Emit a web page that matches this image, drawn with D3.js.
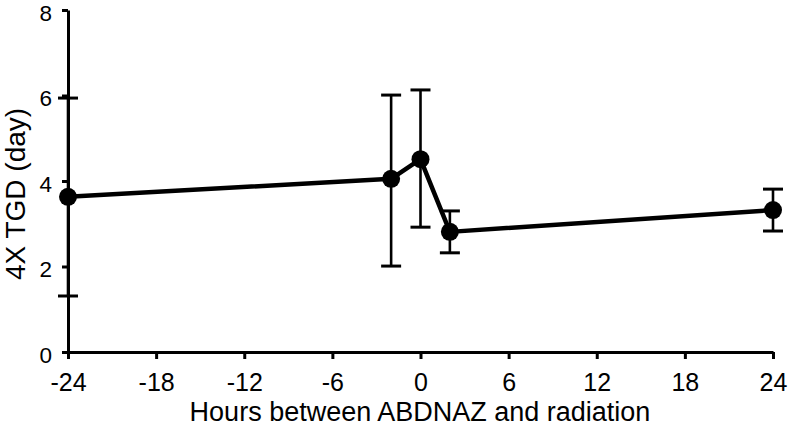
<!DOCTYPE html>
<html><head><meta charset="utf-8">
<script src="https://cdn.jsdelivr.net/npm/d3@7"></script>
<style>
html,body{margin:0;padding:0;background:#fff;}
svg{display:block;}
text{font-family:"Liberation Sans",Arial,Helvetica,sans-serif;fill:#000;}
</style></head>
<body>
<svg id="chart" width="788" height="427"></svg>
<script>
const hours = [-24, -2, 0, 2, 24];
const tgd = [3.63, 4.05, 4.51, 2.81, 3.32];
const errLow = [1.31, 2.01, 2.92, 2.32, 2.83];
const errHigh = [5.94, 6.01, 6.13, 3.30, 3.81];
const xTicks = [-24, -18, -12, -6, 0, 6, 12, 18, 24];
const yTicks = [0, 2, 4, 6, 8];
const xTitle = "Hours between ABDNAZ and radiation";
const yTitle = "4X TGD (day)";

const svg = d3.select("#chart");
const x = d3.scaleLinear().domain([-24, 24]).range([68, 773]);
const y = d3.scaleLinear().domain([0, 8]).range([352, 10]);

const data = hours.map((h, i) => ({h, v: tgd[i], lo: errLow[i], hi: errHigh[i]}));

// error bars
const eb = svg.append("g").attr("stroke", "#000").attr("stroke-width", 2.6);
data.forEach(d => {
  eb.append("line").attr("x1", x(d.h)).attr("x2", x(d.h)).attr("y1", y(d.lo)).attr("y2", y(d.hi));
  [d.lo, d.hi].forEach(val => {
    eb.append("line").attr("x1", x(d.h) - 10).attr("x2", x(d.h) + 10).attr("y1", y(val)).attr("y2", y(val)).attr("stroke-width", 3);
  });
});

// axes
const xAxis = svg.append("g").attr("transform", `translate(0,${y(0)})`)
  .call(d3.axisBottom(x).tickValues(xTicks).tickSize(7).tickSizeOuter(0).tickPadding(14).tickFormat(d3.format("d")));
const yAxis = svg.append("g").attr("transform", `translate(${x(-24)},0)`)
  .call(d3.axisLeft(y).tickValues(yTicks).tickSize(6).tickSizeOuter(0).tickPadding(10));
[xAxis, yAxis].forEach(a => {
  a.select(".domain").attr("stroke", "#000").attr("stroke-width", 3);
  a.selectAll(".tick line").attr("stroke", "#000").attr("stroke-width", 3);
  a.selectAll(".tick text").attr("fill", "#000")
    .style("font-family", '"Liberation Sans",Arial,sans-serif');
});
xAxis.selectAll(".tick text").attr("font-size", 25).text(d => d < 0 ? "-" + Math.abs(d) : d);
yAxis.selectAll(".tick text").attr("font-size", 22.5).attr("dy", "10px");

// line
svg.append("path").datum(data)
  .attr("fill", "none").attr("stroke", "#000").attr("stroke-width", 4.5).attr("stroke-linejoin", "round")
  .attr("d", d3.line().x(d => x(d.h)).y(d => y(d.v)));

// markers
svg.append("g").selectAll("circle").data(data).join("circle")
  .attr("cx", d => x(d.h)).attr("cy", d => y(d.v)).attr("r", 9).attr("fill", "#000");

// titles
svg.append("text").attr("x", 420).attr("y", 421).attr("text-anchor", "middle")
  .attr("font-size", 27).text(xTitle);
svg.append("text").attr("transform", "translate(25,194) rotate(-90)").attr("text-anchor", "middle")
  .attr("font-size", 28).text(yTitle);
</script>
</body></html>
